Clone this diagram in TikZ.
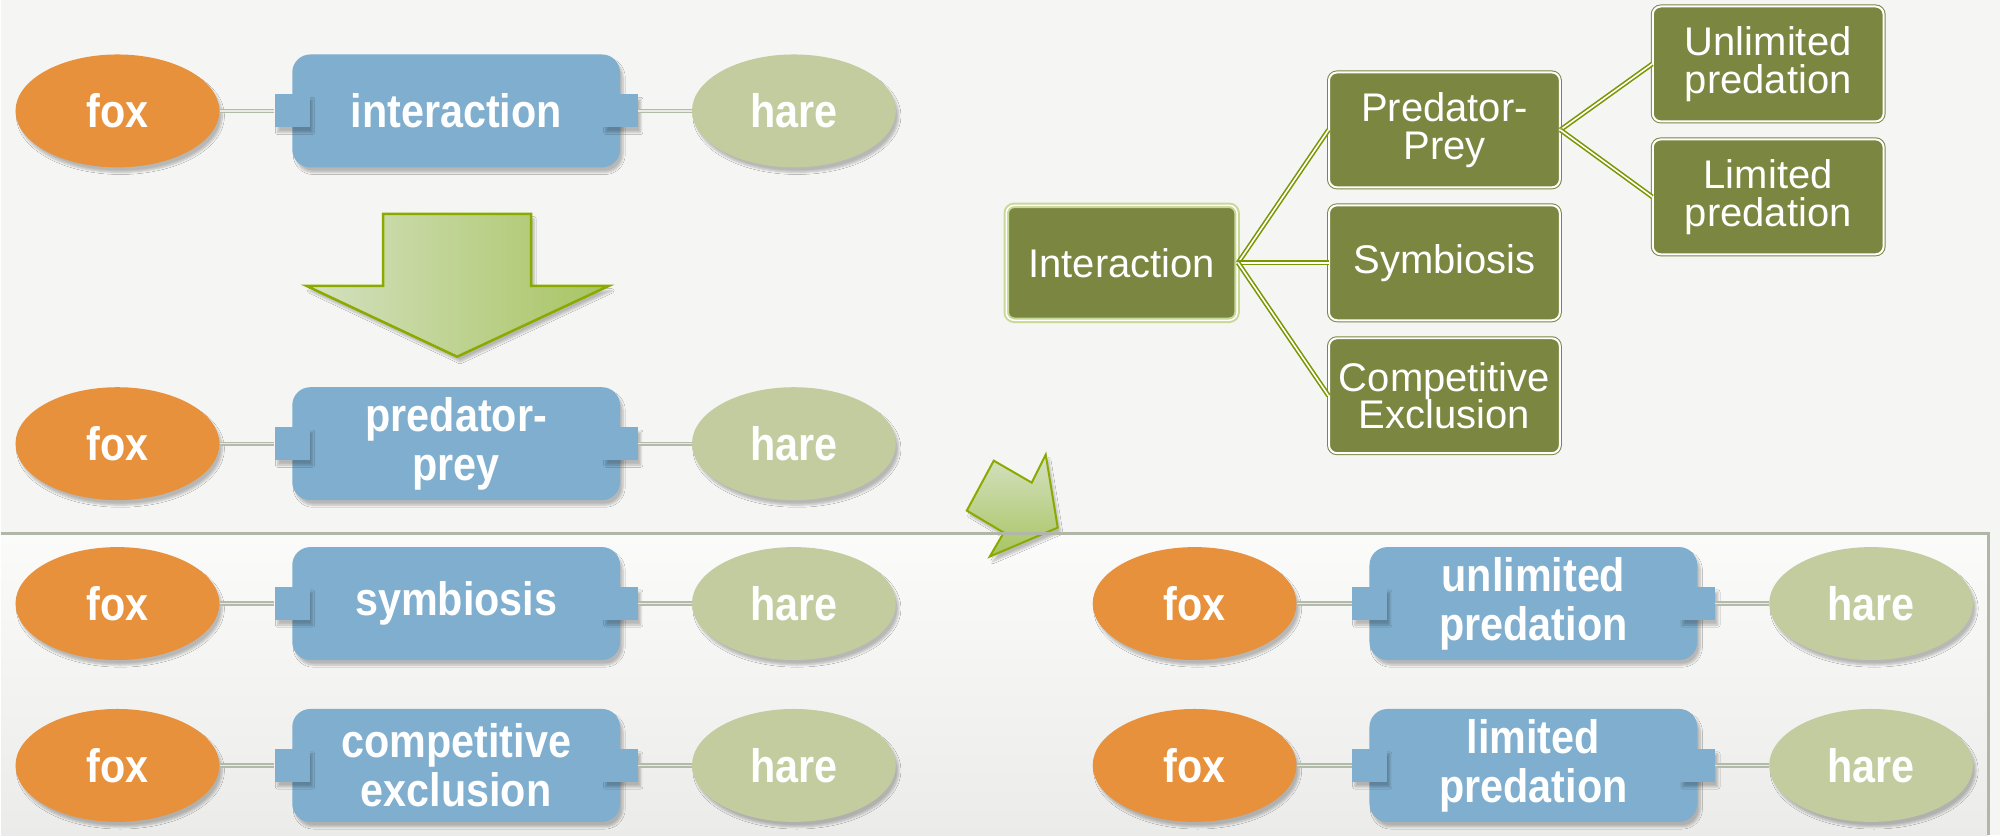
\documentclass[tikz,border=0pt]{standalone}
\usepackage{fontspec}
\setmainfont{Liberation Sans}
\newfontfamily\pairfont{Liberation Sans}[FakeStretch=0.88]
\usetikzlibrary{shapes.geometric,shadows.blur}

\definecolor{pagebg}{RGB}{245,245,243}
\definecolor{foxorange}{RGB}{232,145,60}
\definecolor{relblue}{RGB}{127,174,206}
\definecolor{haregreen}{RGB}{194,204,158}
\definecolor{linkgray}{RGB}{178,186,170}
\definecolor{linklite}{RGB}{232,234,228}
\definecolor{treeolive}{RGB}{123,134,64}
\definecolor{treeline}{RGB}{122,150,0}
\definecolor{rootglow}{RGB}{200,216,150}
\definecolor{arrowlite}{RGB}{213,225,193}
\definecolor{arrowdark}{RGB}{168,196,98}
\definecolor{arrowedge}{RGB}{138,170,0}
\definecolor{rulegray}{RGB}{176,183,168}

\begin{document}
\begin{tikzpicture}[x=1pt,y=-1pt,
	softshadow/.style={blur shadow={shadow xshift=3pt,shadow yshift=-5pt,shadow opacity=25,shadow blur steps=6}},
	fox/.style={ellipse,fill=foxorange,minimum width=204,minimum height=113,inner sep=0,
		text=white,font=\pairfont\bfseries\fontsize{47}{49}\selectfont,softshadow},
	hare/.style={fox,fill=haregreen},
	relation/.style={rectangle,rounded corners=18,fill=relblue,minimum width=328,minimum height=113,
		inner sep=0,align=center,text=white,font=\pairfont\bfseries\fontsize{47}{49}\selectfont,softshadow},
	port/.style={rectangle,fill=relblue,minimum width=35,minimum height=33,inner sep=0,softshadow},
	link/.style={draw=linkgray,double=linklite,line width=1.3,double distance=1.6},
	treebox/.style={rectangle,rounded corners=8,fill=treeolive,draw=treeolive,double=white,
		line width=1,double distance=2,minimum width=231,minimum height=115,inner sep=0,
		align=center,text=white,font=\fontsize{40}{38}\selectfont},
	rootbox/.style={treebox,draw=rootglow,line width=2,double distance=1.5},
	branch/.style={draw=treeline,double=white,line width=1.6,double distance=1.6},
	bigarrow/.style={draw=arrowedge,line width=2.5,line join=miter,left color=arrowlite,
		middle color=arrowlite,right color=arrowdark,softshadow},
	smallarrow/.style={draw=arrowedge,line width=2,line join=miter,top color=arrowlite,
		bottom color=arrowdark,softshadow}
	]
	
	%------------------------------
	% Page and lower panel
	%------------------------------
	\fill[pagebg] (0,0) rectangle (2000,836);
	\shade[top color=pagebg!40!white,bottom color=pagebg!96!black] (0,534) rectangle (1988,836);
	
	% Block arrows
	\path[bigarrow] (382,214) -- (530,214) -- (530,286) -- (608,286) -- (456,357)
	-- (305,286) -- (382,286) -- cycle;
	\path[smallarrow] (993,461) -- (1031,483) -- (1045,455) -- (1057,528) -- (989,557)
	-- (1003,533) -- (966,511) -- cycle;
	
	% Panel rule
	\draw[rulegray,line width=3] (0,534) -- (1988,534) -- (1988,836);
	
	%------------------------------
	% fox -- relation -- hare rows
	%------------------------------
	\foreach \n/\cx/\cy/\rel in {1/0/111/interaction, 2/0/444/{predator-\\prey},
		3/0/604/symbiosis, 4/0/766/{competitive\\exclusion},
		5/1078/604/{unlimited\\predation}, 6/1078/766/{limited\\predation}}{
		\begin{scope}[shift={(\cx,0)}]
			\node[fox] (fox\n) at (116,\cy) {fox};
			\node[relation] (rel\n) at (455,\cy) {\rel};
			\node[port] (pl\n) at (rel\n.west) {};
			\node[port] (pr\n) at (rel\n.east) {};
			\node[hare] (hare\n) at (793,\cy) {hare};
			\draw[link] (fox\n) -- (pl\n);
			\draw[link] (pr\n) -- (hare\n);
		\end{scope}
	}
	
	%------------------------------
	% Interaction tree
	%------------------------------
	\node[rootbox] (root) at (1121,263) {Interaction};
	\node[treebox] (pp) at (1444,130) {Predator-\\Prey};
	\node[treebox] (sym) at (1444,263) {Symbiosis};
	\node[treebox] (comp) at (1444,396) {Competitive\\Exclusion};
	\node[treebox] (unl) at (1768,64) {Unlimited\\predation};
	\node[treebox] (lim) at (1768,197) {Limited\\predation};
	
	\foreach \c in {pp,sym,comp}
	\draw[branch] (root.east) -- (\c.west);
	\foreach \c in {unl,lim}
	\draw[branch] (pp.east) -- (\c.west);
	
\end{tikzpicture}
\end{document}
